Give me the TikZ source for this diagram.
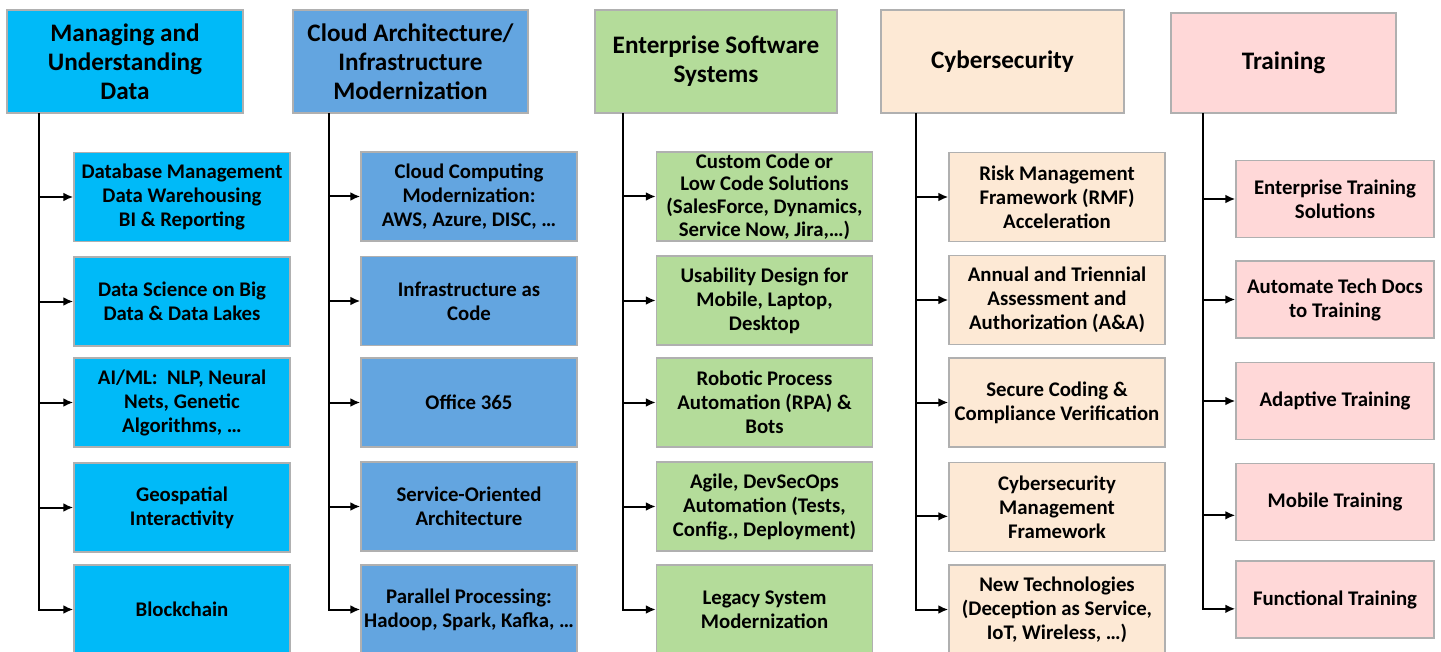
\documentclass[tikz,border=0pt]{standalone}
\usepackage{fontspec}
\setmainfont{Carlito}
\usetikzlibrary{arrows.meta}
\newcommand{\px}{0.75pt}
\definecolor{dataBlue}{RGB}{0,186,248}
\definecolor{cloudBlue}{RGB}{99,165,224}
\definecolor{softGreen}{RGB}{180,220,154}
\definecolor{cyberPeach}{RGB}{253,233,213}
\definecolor{trainPink}{RGB}{255,216,216}
\definecolor{edgeGray}{RGB}{176,176,176}

\begin{document}
\begin{tikzpicture}[x=0.75pt, y=-0.75pt,
    head/.style={draw=edgeGray, line width=0.9pt, fill=#1, align=center, inner sep=0pt,
      minimum height=103*\px, font=\bfseries\fontsize{18.9}{21.75}\selectfont},
    item/.style={draw=edgeGray, line width=0.9pt, fill=#1, align=center, inner sep=0pt,
      minimum width=216*\px, minimum height=89*\px, font=\bfseries\fontsize{15.6}{18}\selectfont},
    tile/.style={item=#1, minimum width=198*\px, minimum height=77*\px},
    arr/.style={line width=1.5pt, -{Latex[length=7.5pt,width=6.5pt]}}]
    \useasboundingbox (0,0) rectangle (1441,652);

    % Headers
    \node[head=dataBlue, minimum width=236*\px] (head-1) at (125,61.5) {Managing and\\Understanding\\Data};
    \node[head=cloudBlue, minimum width=235*\px] (head-2) at (410.5,61.5) {Cloud Architecture/\\Infrastructure\\Modernization};
    \node[head=softGreen, minimum width=242*\px] (head-3) at (716,61.5) {Enterprise Software\\Systems};
    \node[head=cyberPeach, minimum width=243*\px] (head-4) at (1002.5,61.5) {Cybersecurity};
    \node[head=trainPink, minimum width=225*\px, minimum height=100*\px] (head-5) at (1283.5,63) {Training};

    % Managing and Understanding Data
    \node[item=dataBlue] (item-1-1) at (182,197) {Database Management\\Data Warehousing\\BI \& Reporting};
    \node[item=dataBlue] (item-1-2) at (182,301.5) {Data Science on Big\\Data \& Data Lakes};
    \node[item=dataBlue] (item-1-3) at (182,402.5) {AI/ML:\ \ NLP, Neural\\Nets, Genetic\\Algorithms, \dots};
    \node[item=dataBlue] (item-1-4) at (182,507.5) {Geospatial\\Interactivity};
    \node[item=dataBlue] (item-1-5) at (182,609.5) {Blockchain};

    % Cloud Architecture
    \node[item=cloudBlue] (item-2-1) at (469,196.5) {Cloud Computing\\Modernization:\\AWS, Azure, DISC, \dots};
    \node[item=cloudBlue] (item-2-2) at (469,301) {Infrastructure as\\Code};
    \node[item=cloudBlue] (item-2-3) at (469,402.5) {Office 365};
    \node[item=cloudBlue] (item-2-4) at (469,506.5) {Service-Oriented\\Architecture};
    \node[item=cloudBlue] (item-2-5) at (469,609.5) {Parallel Processing:\\Hadoop, Spark, Kafka, \dots};

    % Enterprise Software Systems
    \node[item=softGreen, font=\bfseries\fontsize{15.6}{17}\selectfont] (item-3-1) at (764.5,196.5) {Custom Code or\\Low Code Solutions\\(SalesForce, Dynamics,\\Service Now, Jira,\dots)};
    \node[item=softGreen] (item-3-2) at (764.5,300.5) {Usability Design for\\Mobile, Laptop,\\Desktop};
    \node[item=softGreen] (item-3-3) at (764.5,402.5) {Robotic Process\\Automation (RPA) \&\\Bots};
    \node[item=softGreen] (item-3-4) at (764.5,506.5) {Agile, DevSecOps\\Automation (Tests,\\Config., Deployment)};
    \node[item=softGreen] (item-3-5) at (764.5,609.5) {Legacy System\\Modernization};

    % Cybersecurity
    \node[item=cyberPeach] (item-4-1) at (1057,197) {Risk Management\\Framework (RMF)\\Acceleration};
    \node[item=cyberPeach] (item-4-2) at (1057,300) {Annual and Triennial\\Assessment and\\Authorization (A\&A)};
    \node[item=cyberPeach] (item-4-3) at (1057,402.5) {Secure Coding \&\\Compliance Verification};
    \node[item=cyberPeach] (item-4-4) at (1057,507) {Cybersecurity\\Management\\Framework};
    \node[item=cyberPeach] (item-4-5) at (1057,609.5) {New Technologies\\(Deception as Service,\\IoT, Wireless, \dots)};

    % Training
    \node[tile=trainPink] (item-5-1) at (1335,199) {Enterprise Training\\Solutions};
    \node[tile=trainPink] (item-5-2) at (1335,299.5) {Automate Tech Docs\\to Training};
    \node[tile=trainPink] (item-5-3) at (1335,401) {Adaptive Training};
    \node[tile=trainPink] (item-5-4) at (1335,502) {Mobile Training};
    \node[tile=trainPink] (item-5-5) at (1335,599.5) {Functional Training};

    % Trunks
    \coordinate (trunk-1) at (39,113);
    \coordinate (trunk-2) at (329,113);
    \coordinate (trunk-3) at (623,113);
    \coordinate (trunk-4) at (916,113);
    \coordinate (trunk-5) at (1203,113);

    \draw[arr] (trunk-1) |- (item-1-5.west);
    \draw[arr] (trunk-1 |- item-1-1.west) -- (item-1-1.west);
    \draw[arr] (trunk-1 |- item-1-2.west) -- (item-1-2.west);
    \draw[arr] (trunk-1 |- item-1-3.west) -- (item-1-3.west);
    \draw[arr] (trunk-1 |- item-1-4.west) -- (item-1-4.west);

    \draw[arr] (trunk-2) |- (item-2-5.west);
    \draw[arr] (trunk-2 |- item-2-1.west) -- (item-2-1.west);
    \draw[arr] (trunk-2 |- item-2-2.west) -- (item-2-2.west);
    \draw[arr] (trunk-2 |- item-2-3.west) -- (item-2-3.west);
    \draw[arr] (trunk-2 |- item-2-4.west) -- (item-2-4.west);

    \draw[arr] (trunk-3) |- (item-3-5.west);
    \draw[arr] (trunk-3 |- item-3-1.west) -- (item-3-1.west);
    \draw[arr] (trunk-3 |- item-3-2.west) -- (item-3-2.west);
    \draw[arr] (trunk-3 |- item-3-3.west) -- (item-3-3.west);
    \draw[arr] (trunk-3 |- item-3-4.west) -- (item-3-4.west);

    \draw[arr] (trunk-4) |- (item-4-5.west);
    \draw[arr] (trunk-4 |- item-4-1.west) -- (item-4-1.west);
    \draw[arr] (trunk-4 |- item-4-2.west) -- (item-4-2.west);
    \draw[arr] (trunk-4 |- item-4-3.west) -- (item-4-3.west);
    \draw[arr] ([yshift=-7pt]trunk-4 |- item-4-4.west) -- ([yshift=-7pt]item-4-4.west);

    \draw[arr] (trunk-5) |- ([yshift=-7pt]item-5-5.west);
    \draw[arr] (trunk-5 |- item-5-1.west) -- (item-5-1.west);
    \draw[arr] (trunk-5 |- item-5-2.west) -- (item-5-2.west);
    \draw[arr] (trunk-5 |- item-5-3.west) -- (item-5-3.west);
    \draw[arr] ([yshift=-10pt]trunk-5 |- item-5-4.west) -- ([yshift=-10pt]item-5-4.west);
\end{tikzpicture}
\end{document}
